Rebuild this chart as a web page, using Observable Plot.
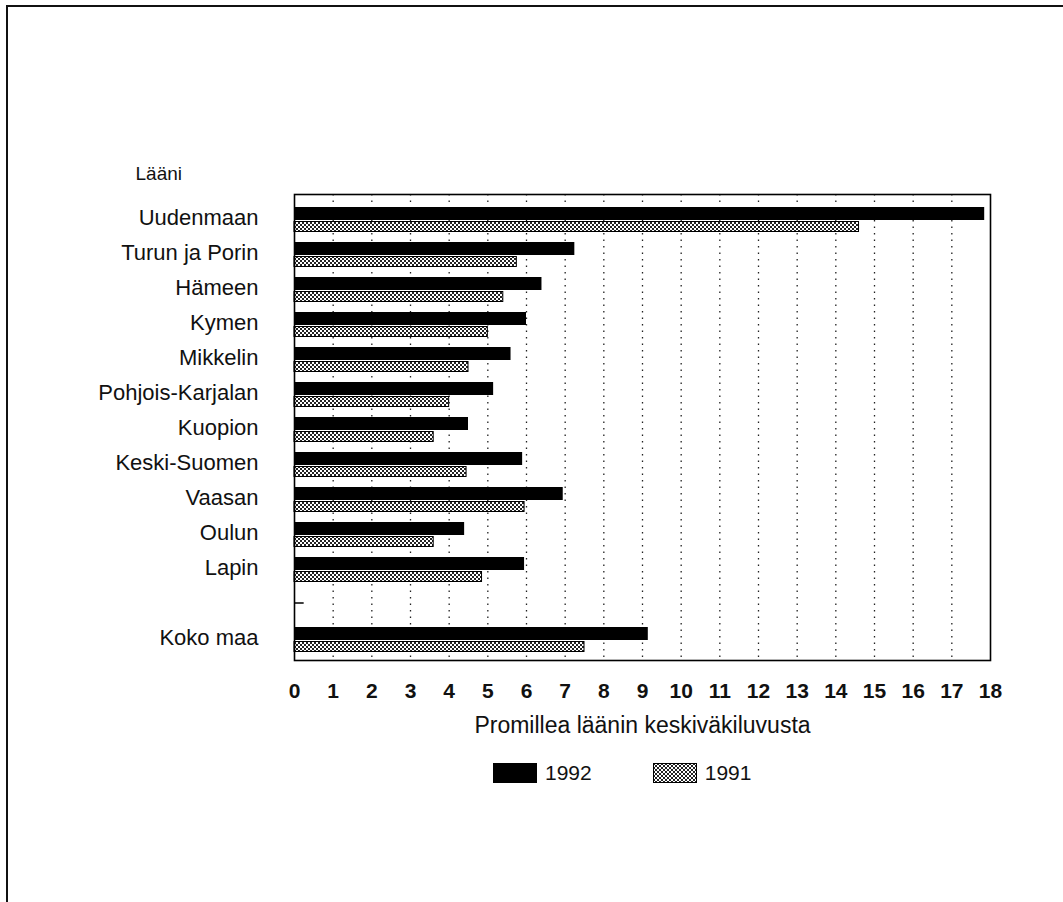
<!DOCTYPE html>
<html><head><meta charset="utf-8">
<script src="https://cdn.jsdelivr.net/npm/d3@7"></script>
<script src="https://cdn.jsdelivr.net/npm/@observablehq/plot@0.6"></script>
<style>
body{margin:0;background:#fff;font-family:"Liberation Sans",Arial,sans-serif;}
#page{position:relative;width:1063px;height:902px;overflow:hidden;}
#chart{position:absolute;left:0;top:0;}
#chart svg g[aria-label="x-axis tick label"], #chart svg g[aria-label="x-axis tick label"] text{font-size:21px !important;font-weight:bold;}
#chart svg g[aria-label="y-axis tick label"], #chart svg g[aria-label="y-axis tick label"] text{font-size:22px !important;}
#chart svg g[aria-label="x-axis label"], #chart svg g[aria-label="x-axis label"] text{font-size:23px !important;}
#chart svg g[aria-label="text"], #chart svg g[aria-label="text"] text{font-size:19px !important;}
#border{position:absolute;left:6px;top:5px;right:-10px;bottom:-10px;border-top:2px solid #111;border-left:2px solid #111;pointer-events:none;}
#legend{position:absolute;top:761px;left:493px;display:flex;align-items:center;font-size:21px;color:#111;}
.sw{width:44px;height:20px;box-sizing:border-box;border:1px solid #000;margin-right:8px;}
</style></head>
<body><div id="page"><div id="chart"></div><div id="border"></div>
<div id="legend">
<div class="sw" style="background:#000"></div><span style="margin-right:61px">1992</span>
<svg class="sw" width="44" height="20" style="border:none"><rect x="0.5" y="0.5" width="43" height="19" fill="url(#hatchL)" stroke="#000"/>
<defs><pattern id="hatchL" width="4" height="4" patternUnits="userSpaceOnUse"><rect width="4" height="4" fill="#fff"/><rect width="2" height="2" fill="#222"/><rect x="2" y="2" width="2" height="2" fill="#222"/></pattern></defs></svg>
<span>1991</span>
</div></div>
<script>
const regions = ["Uudenmaan","Turun ja Porin","Hämeen","Kymen","Mikkelin","Pohjois-Karjalan","Kuopion","Keski-Suomen","Vaasan","Oulun","Lapin","Koko maa"];
const v1992 = [17.85,7.25,6.4,6.0,5.6,5.15,4.5,5.9,6.95,4.4,5.95,9.15];
const v1991 = [14.6,5.75,5.4,5.0,4.5,4.0,3.6,4.45,5.95,3.6,4.85,7.5];
const xTicks = d3.range(0,19);
const gridTicks = d3.range(1,18);
const yDomain = [...regions.slice(0,11), " ", "Koko maa"];

const d92 = regions.map((r,i)=>({region:r, value:v1992[i]}));
const d91 = regions.map((r,i)=>({region:r, value:v1991[i]}));

const plot = Plot.plot({
  width: 1063,
  height: 752,
  marginLeft: 294,
  marginRight: 73,
  marginTop: 194,
  marginBottom: 92,
  style: {fontFamily: '"Liberation Sans", Arial, sans-serif', color: "#111", background: "#fff"},
  x: {domain: [0,18]},
  y: {domain: yDomain, padding: 0},
  marks: [
    Plot.ruleX(gridTicks, {stroke: "#222", strokeWidth: 1.3, strokeDasharray: "1.5,5"}),
    Plot.barX(d92, {x: "value", y: "region", fill: "#000", insetTop: 7, insetBottom: 15}),
    Plot.barX(d91, {x: "value", y: "region", fill: "url(#hatch)", stroke: "#000", strokeWidth: 1, insetTop: 21.5, insetBottom: 3.5}),
    Plot.frame({stroke: "#000", strokeWidth: 1.6}),
    Plot.tickX(xTicks, {x: d=>d, y: "Koko maa", insetTop: 30, stroke: "#000", strokeWidth: 1.2}),
    Plot.tickX(xTicks, {x: d=>d, y: "Uudenmaan", insetBottom: 32, stroke: "#000", strokeWidth: 1.2}),
    Plot.ruleY([" "], {y: d=>d, x1: 0, x2: 0.25, stroke: "#000", strokeWidth: 1.5}),
    Plot.axisX(xTicks, {tickSize: 0, tickPadding: 23, fontSize: 21, label: "Promillea läänin keskiväkiluvusta", labelAnchor: "center", labelArrow: "none", labelOffset: 72}),
    Plot.axisY({tickSize: 0, tickPadding: 36, fontSize: 22, label: null}),
    Plot.text(["Lääni"], {frameAnchor: "top-left", dx: -159, dy: -28, fontSize: 19, textAnchor: "start"})
  ]
});
const svg = d3.select(plot);
const defs = svg.insert("defs", ":first-child");
const pat = defs.append("pattern").attr("id","hatch").attr("width",4).attr("height",4).attr("patternUnits","userSpaceOnUse");
pat.append("rect").attr("width",4).attr("height",4).attr("fill","#fff");
pat.append("rect").attr("width",2).attr("height",2).attr("fill","#222");
pat.append("rect").attr("x",2).attr("y",2).attr("width",2).attr("height",2).attr("fill","#222");
document.getElementById("chart").appendChild(plot);
</script></body></html>
